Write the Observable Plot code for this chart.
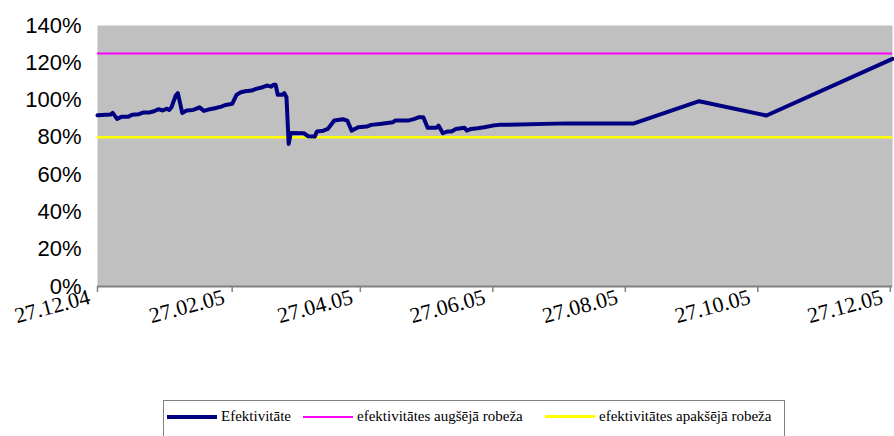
<!DOCTYPE html>
<html>
<head>
<meta charset="utf-8">
<script src="https://cdn.jsdelivr.net/npm/d3@7"></script>
<script src="https://cdn.jsdelivr.net/npm/@observablehq/plot@0.6"></script>
<style>
  html, body { margin: 0; padding: 0; background: #fff; }
  #wrap { position: relative; width: 894px; height: 436px; overflow: hidden; }
  #legend {
    position: absolute; left: 163px; top: 400px; width: 622px; height: 40px;
    border: 1.5px solid #808080; box-sizing: border-box;
    font-family: "Liberation Serif", "Times New Roman", serif; font-size: 15px; color: #000;
  }
  .item { position: absolute; top: 7px; display: flex; align-items: center; white-space: nowrap; }
  .swatch { display: inline-block; width: 50px; margin-right: 4px; }
</style>
</head>
<body>
<div id="wrap">
  <div id="chart"></div>
  <div id="legend"></div>
</div>
<script>
// ---- data ----
const dates = [
  "2004-12-27","2005-01-02","2005-01-03","2005-01-05","2005-01-07","2005-01-10","2005-01-12","2005-01-15",
  "2005-01-17","2005-01-20","2005-01-22","2005-01-24","2005-01-26","2005-01-28","2005-01-29","2005-01-30",
  "2005-02-01","2005-02-02","2005-02-04","2005-02-06","2005-02-09","2005-02-10","2005-02-12","2005-02-14",
  "2005-02-16","2005-02-19","2005-02-22","2005-02-24","2005-02-27","2005-03-01","2005-03-03","2005-03-05",
  "2005-03-08","2005-03-10","2005-03-13","2005-03-15","2005-03-17","2005-03-18","2005-03-19","2005-03-20",
  "2005-03-22","2005-03-23","2005-03-24","2005-03-25","2005-03-26","2005-04-01","2005-04-03","2005-04-06",
  "2005-04-07","2005-04-10","2005-04-12","2005-04-15","2005-04-19","2005-04-21","2005-04-23","2005-04-26",
  "2005-04-30","2005-05-02","2005-05-06","2005-05-12","2005-05-13","2005-05-19","2005-05-22","2005-05-24",
  "2005-05-26","2005-05-28","2005-06-01","2005-06-02","2005-06-04","2005-06-06","2005-06-08","2005-06-10",
  "2005-06-14","2005-06-15","2005-06-17","2005-06-20","2005-06-23","2005-06-27","2005-06-30","2005-07-31",
  "2005-08-31","2005-09-30","2005-10-31","2005-12-28"
];
const efektivitate = [
  91.8, 92.2, 93.1, 89.9, 91.0, 91.0, 92.1, 92.4,
  93.3, 93.4, 94.0, 95.1, 94.4, 95.4, 94.7, 96.0,
  102.4, 103.7, 93.1, 94.4, 94.7, 95.1, 96.1, 94.2,
  94.9, 95.6, 96.5, 97.4, 98.0, 102.8, 104.2, 104.7,
  105.1, 106.0, 106.9, 107.8, 107.2, 108.2, 108.2, 102.8,
  102.8, 103.7, 101.5, 76.5, 82.4, 82.2, 80.6, 80.4,
  83.1, 83.6, 84.5, 89.0, 89.7, 89.0, 83.6, 85.4,
  85.8, 86.7, 87.2, 88.1, 89.0, 89.0, 89.9, 90.8,
  90.8, 85.1, 85.1, 86.3, 82.2, 83.1, 83.1, 84.5,
  85.1, 83.6, 84.5, 84.9, 85.4, 86.3, 86.7, 87.5,
  87.5, 99.4, 91.7, 122.1
];
const augsejaRobeza = 125;
const apaksejaRobeza = 80;
const yTicks = [0, 20, 40, 60, 80, 100, 120, 140];
const xTickDates = ["2004-12-27","2005-02-27","2005-04-27","2005-06-27","2005-08-27","2005-10-27","2005-12-27"];
const xTickLabels = ["27.12.04","27.02.05","27.04.05","27.06.05","27.08.05","27.10.05","27.12.05"];
const seriesNames = ["Efektivitāte", "efektivitātes augšējā robeža", "efektivitātes apakšējā robeža"];

const data = dates.map((d, i) => ({date: new Date(d), value: efektivitate[i]}));
const ticks = xTickDates.map((d, i) => ({date: new Date(d), label: xTickLabels[i]}));

const chart = Plot.plot({
  width: 894,
  height: 400,
  marginLeft: 97,
  marginRight: 2,
  marginTop: 25,
  marginBottom: 114,
  x: {type: "utc", domain: [new Date("2004-12-27"), new Date("2005-12-28")], axis: null},
  y: {domain: [0, 140], label: null},
  marks: [
    Plot.frame({fill: "#C0C0C0", stroke: "none"}),
    Plot.ruleY([augsejaRobeza], {stroke: "#FF00FF", strokeWidth: 2}),
    Plot.ruleY([apaksejaRobeza], {stroke: "#FFFF00", strokeWidth: 2.5}),
    Plot.line(data, {x: "date", y: "value", stroke: "#000080", strokeWidth: 4, strokeLinejoin: "round"}),
    Plot.ruleY([0], {stroke: "#808080", strokeWidth: 2}),
    Plot.axisY({ticks: yTicks, tickSize: 0, tickPadding: 16, tickFormat: d => d + "%", label: null,
      fontSize: 22, fontFamily: "'Liberation Sans Narrow', 'Arial Narrow', 'Liberation Sans', sans-serif", fill: "#000"}),
    Plot.ruleX(ticks, {x: "date", y1: 0, y2: -3.2, stroke: "#808080", strokeWidth: 1.5}),
    Plot.text(ticks, {x: "date", text: "label", frameAnchor: "bottom", dy: 10, dx: -8, rotate: -15,
      textAnchor: "end", lineAnchor: "middle", fontSize: 22,
      fontFamily: "'Liberation Serif', 'Times New Roman', serif", fill: "#000"})
  ],
  style: {background: "transparent", overflow: "visible"}
});
document.getElementById("chart").appendChild(chart);

// legend
const legendStyles = [
  {color: "#000080", w: 4},
  {color: "#FF00FF", w: 2},
  {color: "#FFFF00", w: 2.5}
];
const lefts = [3, 139, 381];
const legend = document.getElementById("legend");
seriesNames.forEach((name, i) => {
  const item = document.createElement("div");
  item.className = "item";
  item.style.left = lefts[i] + "px";
  const sw = document.createElement("span");
  sw.className = "swatch";
  sw.style.height = legendStyles[i].w + "px";
  sw.style.background = legendStyles[i].color;
  item.appendChild(sw);
  item.appendChild(document.createTextNode(name));
  legend.appendChild(item);
});
</script>
</body>
</html>
